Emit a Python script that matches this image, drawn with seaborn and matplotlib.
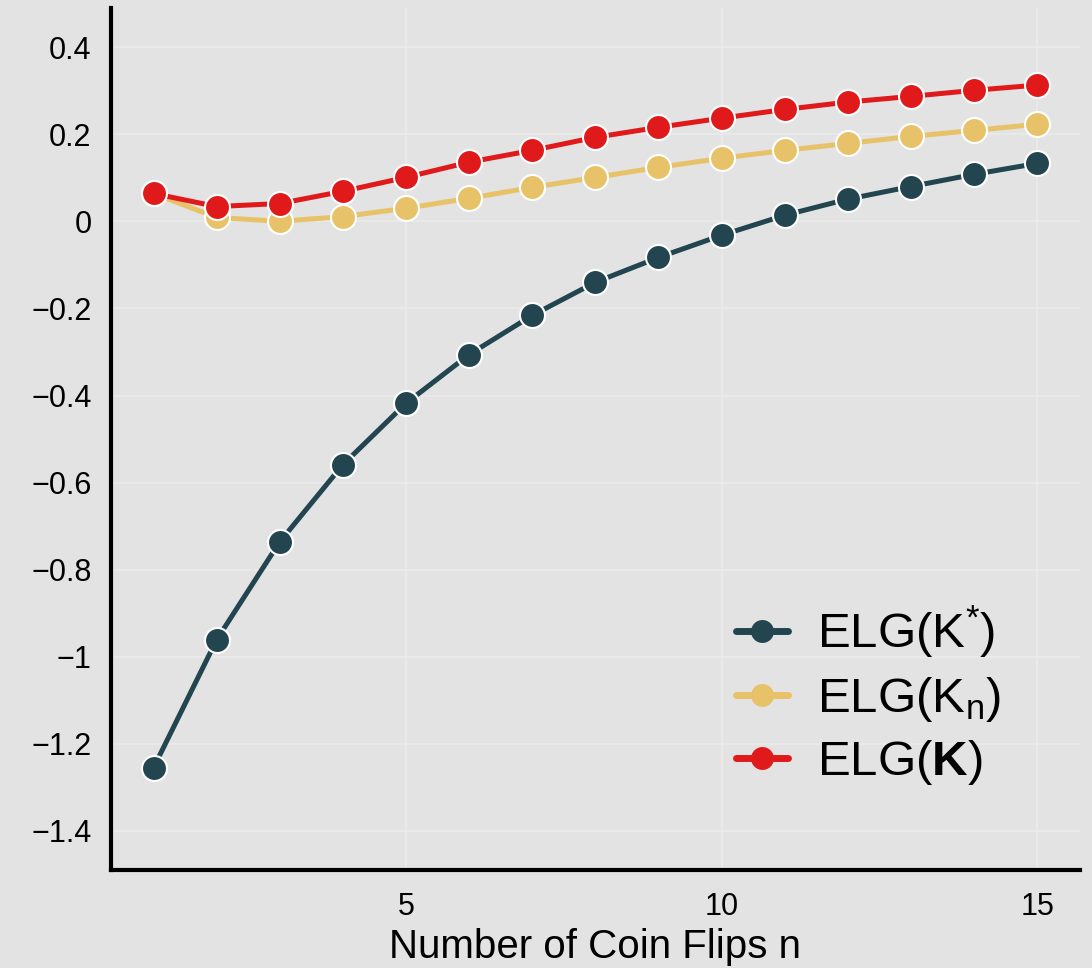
import numpy as np
import pandas as pd
import seaborn as sns
import matplotlib.pyplot as plt
from matplotlib.ticker import FuncFormatter, FixedLocator

# data
n_flips = list(range(1, 16))
elg_kstar = [-1.255, -0.961, -0.736, -0.559, -0.418, -0.306, -0.216, -0.140,
             -0.083, -0.032, 0.014, 0.051, 0.080, 0.108, 0.133]
elg_kn = [0.064, 0.009, 0.000, 0.011, 0.030, 0.053, 0.078, 0.101,
          0.124, 0.145, 0.163, 0.179, 0.195, 0.209, 0.223]
elg_k = [0.064, 0.034, 0.041, 0.069, 0.101, 0.136, 0.163, 0.193,
         0.216, 0.237, 0.257, 0.274, 0.287, 0.301, 0.313]

labels = [r'ELG($\mathrm{K}^{*}$)', r'ELG($\mathrm{K}_{\mathrm{n}}$)', r'ELG($\mathbf{K}$)']
colors = ['#22454f', '#e8c268', '#e01a1a']

df = pd.DataFrame({
    'n': n_flips * 3,
    'elg': elg_kstar + elg_kn + elg_k,
    'series': [labels[0]] * 15 + [labels[1]] * 15 + [labels[2]] * 15,
})

sns.set_style('darkgrid', {'axes.facecolor': '#e3e3e3', 'grid.color': '#ebebeb'})
plt.rcParams['font.family'] = ['Liberation Sans', 'DejaVu Sans']
plt.rcParams['text.color'] = 'black'
plt.rcParams['axes.labelcolor'] = 'black'
plt.rcParams['mathtext.fontset'] = 'custom'
plt.rcParams['mathtext.rm'] = 'Liberation Sans'
plt.rcParams['mathtext.it'] = 'Liberation Sans:italic'
plt.rcParams['mathtext.bf'] = 'Liberation Sans:bold'

fig = plt.figure(figsize=(10.92, 9.68), dpi=100, facecolor='#e3e3e3')
ax = fig.add_axes([0.1016, 0.1012, 0.8874, 0.8905])

for lab, col in zip(labels, colors):
    sns.lineplot(data=df[df['series'] == lab], x='n', y='elg', ax=ax,
                 color=col, label=lab, linewidth=3.6, marker='o',
                 markersize=18, markeredgecolor='white', markeredgewidth=1.5)

ax.set_xlim(0.325, 15.68)
ax.set_ylim(-1.49, 0.49)
ax.xaxis.set_major_locator(FixedLocator([5, 10, 15]))
ax.yaxis.set_major_locator(FixedLocator([-1.4, -1.2, -1.0, -0.8, -0.6, -0.4, -0.2, 0, 0.2, 0.4]))


def fmt(v, pos):
    s = f'{v:.1f}'.rstrip('0').rstrip('.')
    if s in ('-0', '0'):
        return '0'
    return s.replace('-', '\u2212')


ax.yaxis.set_major_formatter(FuncFormatter(fmt))
ax.tick_params(axis='both', length=0, labelsize=22, labelcolor='black')
ax.tick_params(axis='y', pad=14)
ax.tick_params(axis='x', pad=16)
ax.grid(True, color='#ebebeb', linewidth=1.2)

for side in ['top', 'right']:
    ax.spines[side].set_visible(False)
for side in ['left', 'bottom']:
    ax.spines[side].set_visible(True)
    ax.spines[side].set_color('black')
    ax.spines[side].set_linewidth(3)

ax.set_xlabel('Number of Coin Flips n', fontsize=29, labelpad=4, color='black')
ax.set_ylabel('')

leg = ax.legend(loc='lower right', fontsize=35.5, frameon=False, handlelength=1.05,
                handletextpad=0.6, labelspacing=0.28, borderaxespad=0.9,
                bbox_to_anchor=(0.985, 0.022))
for t in leg.get_texts():
    t.set_color('black')
for h in leg.get_lines():
    h.set_markeredgecolor(h.get_color())
    h.set_markersize(15)
    h.set_linewidth(5)

fig.savefig('out.png', dpi=100, facecolor='#e3e3e3')
